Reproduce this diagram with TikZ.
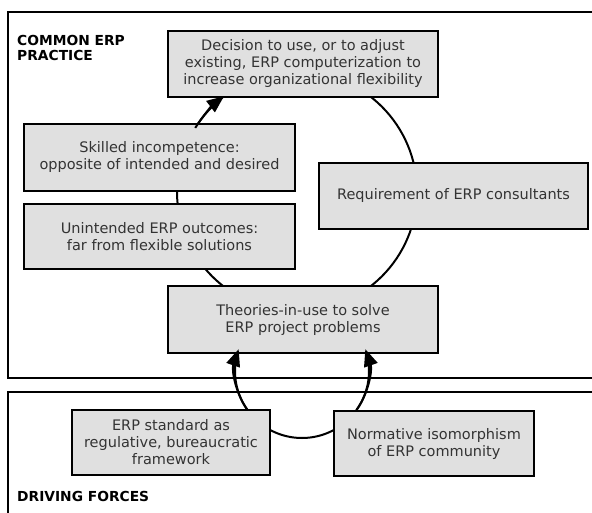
\documentclass[tikz,border=0pt]{standalone}
\usepackage{fontspec}
\setmainfont{DejaVu Sans}
\usetikzlibrary{arrows.meta}
\definecolor{boxgray}{HTML}{E0E0E0}
\definecolor{textgray}{HTML}{333333}
\tikzset{
  erpbox/.style={draw=black, line width=2pt, fill=boxgray, text=textgray,
    align=center, inner sep=0pt, font=\fontsize{14.5}{17}\selectfont},
  frame/.style={draw=black, line width=2pt},
  flow/.style={line width=2pt},
  headed/.style={-{Triangle[length=17pt,width=14pt]}},
  area/.style={anchor=north west, align=left, inner sep=0pt,
    font=\fontsize{13.8}{15}\selectfont\bfseries}
}
\begin{document}
\begin{tikzpicture}[x=1pt,y=-1pt]
  \useasboundingbox (0,0) rectangle (592,513);
  \clip (0,0) rectangle (592,513);
  % the two areas
  \draw[frame] (8,12) rectangle (610,378);
  \draw[frame] (8,392) rectangle (610,530);
  \node[area] (practice) at (17,35) {COMMON ERP\\PRACTICE};
  \node[area] (forces) at (17,491) {DRIVING FORCES};

  % loops behind the boxes
  \coordinate (cycle) at (297,191.5);
  \coordinate (drive) at (302,371);
  \draw[flow] (cycle) circle (120);
  \draw[flow] (drive) circle (67);

  \node[erpbox, minimum width=270, minimum height=66] (decision) at (303,64)
    {Decision to use, or to adjust\\existing, ERP computerization to\\increase organizational flexibility};
  \node[erpbox, minimum width=271, minimum height=67] (skilled) at (159.5,157.5)
    {Skilled incompetence:\\opposite of intended and desired};
  \node[erpbox, minimum width=271, minimum height=65] (outcomes) at (159.5,236.5)
    {Unintended ERP outcomes:\\far from flexible solutions};
  \node[erpbox, minimum width=269, minimum height=66] (consultants) at (453.5,196)
    {Requirement of ERP consultants};
  \node[erpbox, minimum width=270, minimum height=67] (theories) at (303,319.5)
    {Theories-in-use to solve\\ERP project problems};
  \node[erpbox, minimum width=198, minimum height=65] (standard) at (171,442.5)
    {ERP standard as\\regulative, bureaucratic\\framework};
  \node[erpbox, minimum width=200, minimum height=65] (normative) at (434,443.5)
    {Normative isomorphism\\of ERP community};

  % arrow heads on the loops
  \draw[flow, headed] ([shift={(212:120)}]cycle) arc (212:232.5:120);
  \draw[flow, headed] ([shift={(145:67)}]drive) arc (145:199:67);
  \draw[flow, headed] ([shift={(35:67)}]drive) arc (35:-19:67);
\end{tikzpicture}
\end{document}
